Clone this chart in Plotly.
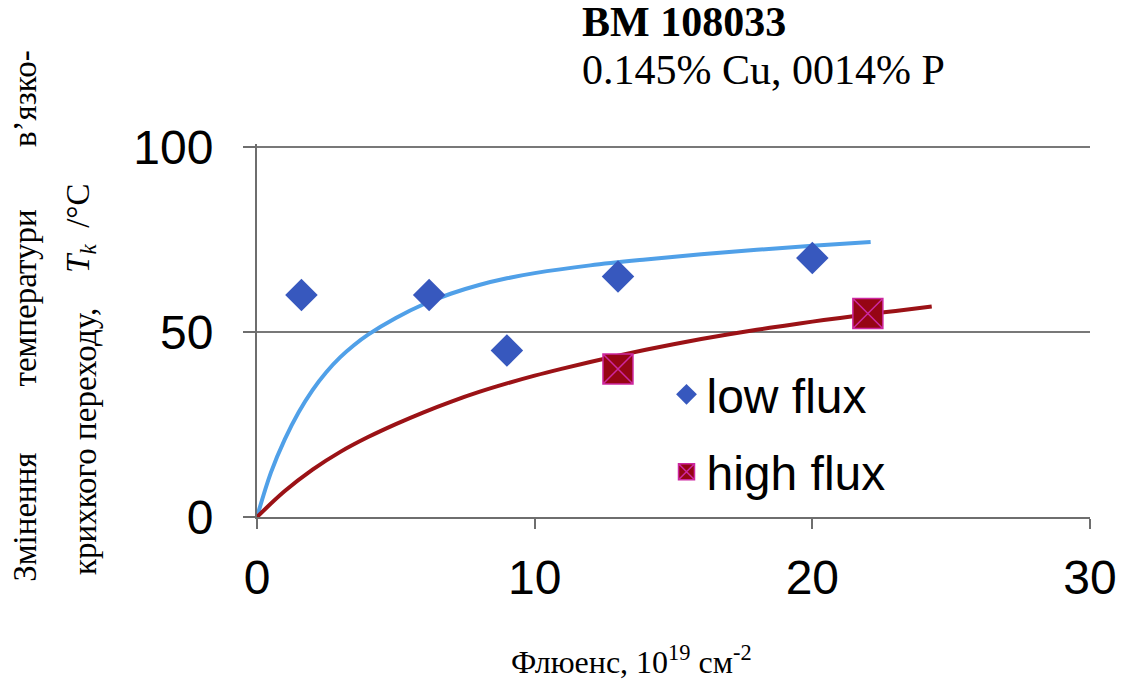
import plotly.graph_objects as go

# ---- data ----
low_x = [1.6, 6.2, 9.0, 13.0, 20.0]
low_y = [60, 60, 45, 65, 70]

high_x = [13.0, 22.0]
high_y = [40, 55]

# trend curves, sampled along the drawn lines
fit_low_x = [0, 0.5, 1, 1.5, 2, 2.5, 3, 3.5, 4, 5, 6, 7, 8, 9, 10, 12, 14, 16, 18, 20, 22.1]
fit_low_y = [0, 12, 21, 28.3, 34.3, 39.2, 43.2, 46.5, 49.3, 53.8, 57.5, 60.4, 62.7, 64.5,
             65.9, 68, 69.6, 71, 72.2, 73.3, 74.3]

fit_high_x = [0, 1, 2, 3, 4, 5, 6, 7, 8, 9, 10, 11, 12, 13, 14, 15, 16, 17, 18, 19,
              20, 21, 22, 23, 24.3]
fit_high_y = [0, 7, 12.8, 17.6, 21.6, 25.1, 28.3, 31.2, 33.8, 36.1, 38.2, 40.1, 41.9, 43.6,
              45.2, 46.7, 48.1, 49.4, 50.6, 51.7, 52.8, 53.8, 54.8, 55.7, 56.9]

x_ticks = [0, 10, 20, 30]
y_ticks = [0, 50, 100]

SERIF = "Liberation Serif, Times New Roman, serif"
SANS = "Liberation Sans, Arial, sans-serif"

fig = go.Figure()

fig.add_trace(go.Scatter(
    x=fit_low_x, y=fit_low_y, mode="lines",
    line=dict(color="rgb(80,160,232)", width=4, shape="spline", smoothing=1),
    showlegend=False, hoverinfo="skip"))
fig.add_trace(go.Scatter(
    x=fit_high_x, y=fit_high_y, mode="lines",
    line=dict(color="rgb(155,18,22)", width=4, shape="spline", smoothing=1),
    showlegend=False, hoverinfo="skip"))

fig.add_trace(go.Scatter(
    x=low_x, y=low_y, mode="markers", name="low flux", legendgroup="a",
    marker=dict(symbol="diamond", size=25, color="rgb(55,88,190)",
                line=dict(width=0))))
fig.add_trace(go.Scatter(
    x=high_x, y=high_y, mode="markers", name="high flux", legendgroup="b",
    marker=dict(symbol="square-x", size=30, color="rgb(150,5,20)",
                line=dict(color="rgb(205,40,160)", width=1.5))))

axis_col = "rgb(110,110,110)"
grid_col = "rgb(120,120,120)"

fig.update_xaxes(
    range=[0, 30], tickvals=x_ticks, showgrid=False, zeroline=False,
    showline=True, linecolor=axis_col, linewidth=2,
    ticks="outside", ticklen=10, tickwidth=2, tickcolor=axis_col,
    tickfont=dict(family=SANS, size=48, color="black"),
    ticklabelstandoff=7)
fig.update_yaxes(
    range=[0, 100.8], tickvals=y_ticks, showgrid=True, gridcolor=grid_col,
    gridwidth=2, zeroline=False,
    showline=True, linecolor=axis_col, linewidth=2,
    ticks="outside", ticklen=12, tickwidth=2, tickcolor=axis_col,
    tickfont=dict(family=SANS, size=48, color="black"),
    ticklabelstandoff=20)

ann = []
# title lines
ann.append(dict(text="<b>BM 108033</b>", x=0.3876, y=1.327, xref="paper", yref="paper",
                xanchor="left", yanchor="middle", showarrow=False,
                font=dict(family=SERIF, size=42, color="black")))
ann.append(dict(text="0.145% Cu, 0014% P", x=0.3876, y=1.198, xref="paper", yref="paper",
                xanchor="left", yanchor="middle", showarrow=False,
                font=dict(family=SERIF, size=42, color="black")))
# x-axis title
ann.append(dict(text="Флюенс, 10<sup>19</sup> см<sup>-2</sup>", x=0.45, y=-0.383,
                xref="paper", yref="paper", xanchor="center", yanchor="middle",
                showarrow=False, font=dict(family=SERIF, size=32, color="black")))
# y-axis title, two justified columns
ycol = [
    ("Змінення", -0.2787, 0.0),
    ("температури", -0.2787, 0.588),
    ("в’язко-", -0.2787, 1.123),
    ("крихкого переходу,", -0.2057, 0.203),
    ("<i>T<sub>k</sub></i>  /°C", -0.2117, 0.774),
]
for txt, xx, yy in ycol:
    ann.append(dict(text=txt, x=xx, y=yy, xref="paper", yref="paper",
                    xanchor="center", yanchor="middle", textangle=-90,
                    showarrow=False, font=dict(family=SERIF, size=33, color="black")))

fig.update_layout(
    width=1129, height=684,
    margin=dict(l=257, r=36, t=144, b=167),
    paper_bgcolor="white", plot_bgcolor="white",
    annotations=ann,
    legend=dict(x=0.4916, y=0.43, xanchor="left", yanchor="top",
                bgcolor="rgba(0,0,0,0)", traceorder="grouped", tracegroupgap=12,
                font=dict(family=SANS, size=48, color="black")),
)

fig.write_html("out.html", config={"displayModeBar": False},
               post_script="document.body.style.margin='0';")
